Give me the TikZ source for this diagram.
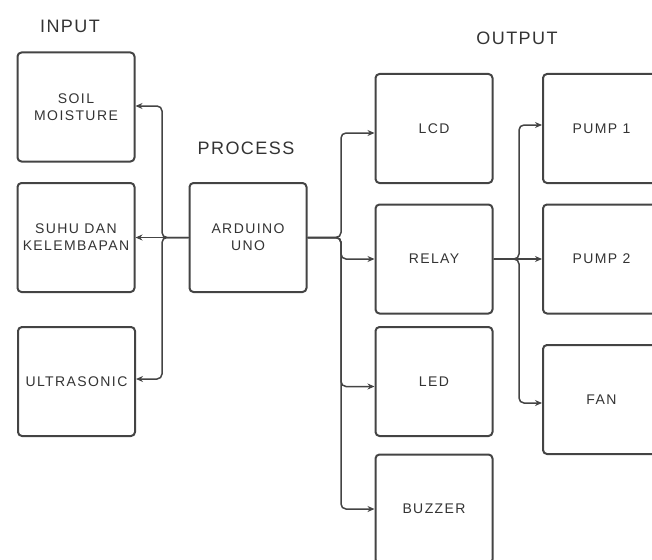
\documentclass[tikz,border=0pt]{standalone}
\usepackage{fontspec}
\newfontfamily\boxfont{Liberation Sans}[LetterSpace=10]
\newfontfamily\titlefont{Liberation Sans}[LetterSpace=8]
\usetikzlibrary{arrows.meta}
\definecolor{boxline}{HTML}{444444}
\definecolor{txt}{HTML}{333333}
\begin{document}
\begin{tikzpicture}[x=1pt,y=-1pt,
  blk/.style={draw=boxline, line width=2pt, rounded corners=4pt,
    minimum width=117pt, minimum height=109pt, inner sep=0pt, text=txt,
    font=\boxfont\fontsize{14}{17}\selectfont, align=center},
  ttl/.style={text=txt, font=\titlefont\fontsize{18}{20}\selectfont, inner sep=0pt},
  arr/.style={draw=boxline, line width=1.5pt, rounded corners=5pt,
    -{Stealth[length=7pt,width=6pt]}}]
\useasboundingbox (0,0) rectangle (652,559);
\clip (0,0) rectangle (652,559);
% titles
\node[ttl] (tin) at (70,26) {INPUT};
\node[ttl] (tproc) at (246,148) {PROCESS};
\node[ttl] (tout) at (517,38) {OUTPUT};
% input
\node[blk] (soil) at (76,107) {SOIL\\MOISTURE};
\node[blk] (suhu) at (76,237.5) {SUHU DAN\\KELEMBAPAN};
\node[blk] (ultra) at (76.5,381.5) {ULTRASONIC};
% process
\node[blk] (ard) at (248,237.5) {ARDUINO\\UNO};
% output
\node[blk] (lcd) at (434,128.5) {LCD};
\node[blk] (relay) at (434,259) {RELAY};
\node[blk] (led) at (434,381.5) {LED};
\node[blk] (buzzer) at (434,509) {BUZZER};
\node[blk] (pump1) at (601.5,128.5) {PUMP 1};
\node[blk] (pump2) at (601.5,259) {PUMP 2};
\node[blk] (fan) at (601.5,399.5) {FAN};
% connectors left
\coordinate (bl) at (162,237.5);
\draw[arr] (ard.west) -- (suhu.east);
\draw[arr] (ard.west) -- (bl) |- ([yshift=1pt]soil.east);
\draw[arr] (ard.west) -- (bl) |- ([yshift=2.5pt]ultra.east);
% connectors right
\coordinate (br) at (341,237.5);
\draw[arr] (ard.east) -- (br) |- ([yshift=-4.5pt]lcd.west);
\draw[arr] (ard.east) -- (br) |- (relay.west);
\draw[arr] (ard.east) -- (br) |- ([yshift=-5pt]led.west);
\draw[arr] (ard.east) -- (br) |- (buzzer.west);
% relay
\coordinate (bp) at (519,259);
\draw[arr] (relay.east) -- (pump2.west);
\draw[arr] (relay.east) -- (bp) |- ([yshift=3.5pt]pump1.west);
\draw[arr] (relay.east) -- (bp) |- ([yshift=-3.5pt]fan.west);
\end{tikzpicture}
\end{document}
